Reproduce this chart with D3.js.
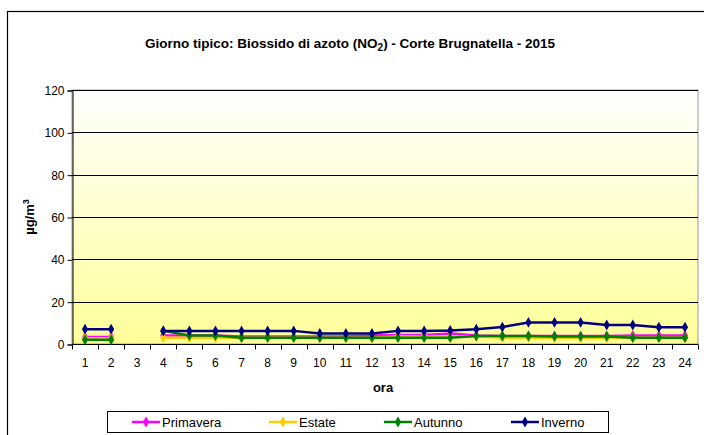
<!DOCTYPE html>
<html lang="it">
<head>
<meta charset="UTF-8">
<title>Giorno tipico NO2</title>
<script src="https://d3js.org/d3.v7.min.js"></script>
<style>
  body { margin: 0; background: #fff; }
  text { font-family: "Liberation Sans", Arial, sans-serif; }
</style>
</head>
<body>
<svg width="704" height="435"></svg>
<script>
const hours = d3.range(1, 25);
const yTicks = [0, 20, 40, 60, 80, 100, 120];
const primavera = [3.3, 3.3, null, 4, 4, 4, 3.5, 3.5, 3.5, 3.5, 3.5, 4, 4.3, 4.3, 5, 4, 3.8, 3.8, 3.8, 3.8, 3.8, 4, 4, 4];
const estate    = [2.7, 2.7, null, 3, 3, 3, 3, 3, 3, 3, 3, 3, 3.5, 3.5, 3.5, 3.5, 3, 3, 2.8, 2.8, 2.8, 3, 3, 3];
const autunno   = [2, 2, null, 6.2, 4, 4, 3, 3, 3, 3, 3, 3, 3, 3, 3, 3.8, 3.8, 3.8, 3.6, 3.6, 3.6, 3, 3, 3];
const inverno   = [7, 7, null, 6.2, 6.2, 6.2, 6.2, 6.2, 6.2, 5, 5, 5, 6.2, 6.2, 6.4, 7, 8, 10.2, 10.2, 10.2, 9, 9, 7.9, 7.9];

const series = [
  {name: "Primavera", color: "#ff00ff", values: primavera},
  {name: "Estate", color: "#ffcc00", values: estate},
  {name: "Autunno", color: "#008000", values: autunno},
  {name: "Inverno", color: "#000080", values: inverno}
];

const svg = d3.select("svg");
const pLeft = 72, pRight = 698, pTop = 90, pBottom = 344;

// outer chart border
svg.append("rect")
  .attr("x", 7.5).attr("y", 11.5).attr("width", 710).attr("height", 440)
  .attr("fill", "#fff").attr("stroke", "#000").attr("stroke-width", 1.2);

const defs = svg.append("defs");
const grad = defs.append("linearGradient").attr("id", "bg")
  .attr("x1", 0).attr("y1", 0).attr("x2", 0).attr("y2", 1);
grad.append("stop").attr("offset", "0%").attr("stop-color", "#ffffff");
grad.append("stop").attr("offset", "100%").attr("stop-color", "#ffff99");

const x = d3.scaleBand().domain(hours).range([pLeft, pRight]);
const y = d3.scaleLinear().domain([0, 120]).range([pBottom, pTop]);

svg.append("rect")
  .attr("x", pLeft).attr("y", pTop).attr("width", pRight - pLeft).attr("height", pBottom - pTop)
  .attr("fill", "url(#bg)").attr("stroke", "#999").attr("stroke-width", 1);

// gridlines
svg.append("g").selectAll("line")
  .data(yTicks.filter(d => d > 0))
  .join("line")
    .attr("x1", pLeft).attr("x2", pRight)
    .attr("y1", d => Math.round(y(d)) + 0.5).attr("y2", d => Math.round(y(d)) + 0.5)
    .attr("stroke", "#000").attr("stroke-width", 1);

// y axis
const yAxis = svg.append("g")
  .attr("transform", `translate(${pLeft + 0.5},0.5)`)
  .call(d3.axisLeft(y).tickValues(yTicks).tickSize(5).tickPadding(3));
yAxis.select(".domain").attr("stroke", "#000");
yAxis.selectAll("text").attr("font-size", 12).attr("fill", "#000")
  .attr("font-family", "Liberation Sans, Arial, sans-serif");

// x axis with ticks at category boundaries
const xg = svg.append("g").attr("transform", `translate(0,${pBottom + 0.5})`);
xg.append("line").attr("x1", pLeft).attr("x2", pRight).attr("stroke", "#000");
xg.selectAll("line.tk")
  .data(d3.range(0, 25))
  .join("line").attr("class", "tk")
    .attr("x1", i => Math.round(pLeft + i * x.bandwidth()) + 0.5)
    .attr("x2", i => Math.round(pLeft + i * x.bandwidth()) + 0.5)
    .attr("y1", 0).attr("y2", 5).attr("stroke", "#000");
xg.selectAll("text")
  .data(hours)
  .join("text")
    .attr("x", d => x(d) + x.bandwidth() / 2)
    .attr("y", 22)
    .attr("text-anchor", "middle")
    .attr("font-size", 12)
    .text(d => d);

// lines and markers
const line = d3.line()
  .defined(d => d.v != null)
  .x(d => x(d.h) + x.bandwidth() / 2)
  .y(d => y(d.v));

const diamond = d3.symbol().type(d3.symbolDiamond).size(34);

series.forEach(s => {
  const pts = hours.map((h, i) => ({h: h, v: s.values[i]}));
  const g = svg.append("g");
  g.append("path")
    .attr("d", line(pts))
    .attr("fill", "none").attr("stroke", s.color)
    .attr("stroke-width", 2.5).attr("stroke-linejoin", "round");
  g.selectAll("path.m")
    .data(pts.filter(d => d.v != null))
    .join("path").attr("class", "m")
      .attr("d", diamond)
      .attr("transform", d => `translate(${x(d.h) + x.bandwidth() / 2},${y(d.v)})`)
      .attr("fill", s.color);
});

// title
const title = svg.append("text")
  .attr("x", 350).attr("y", 48)
  .attr("text-anchor", "middle")
  .attr("font-size", 13.5).attr("font-weight", "bold");
title.append("tspan").text("Giorno tipico: Biossido di azoto (NO");
title.append("tspan").attr("font-size", 10).attr("dy", 3).text("2");
title.append("tspan").attr("dy", -3).text(") - Corte Brugnatella -  2015");

// axis titles
svg.append("text")
  .attr("x", (pLeft + pRight) / 2 - 2).attr("y", 392)
  .attr("text-anchor", "middle")
  .attr("font-size", 13).attr("font-weight", "bold")
  .text("ora");

const yt = svg.append("text")
  .attr("transform", `translate(34,${(pTop + pBottom) / 2}) rotate(-90)`)
  .attr("text-anchor", "middle")
  .attr("font-size", 13).attr("font-weight", "bold");
yt.append("tspan").text("µg/m");
yt.append("tspan").attr("font-size", 9).attr("dy", -5).text("3");

// legend
const leg = svg.append("g");
leg.append("rect")
  .attr("x", 107.5).attr("y", 411.5).attr("width", 501).attr("height", 21)
  .attr("fill", "#fff").attr("stroke", "#000").attr("stroke-width", 1);
const legX = [132, 269, 384, 511];
series.forEach((s, i) => {
  const gx = legX[i], gy = 422;
  leg.append("line")
    .attr("x1", gx).attr("x2", gx + 28).attr("y1", gy).attr("y2", gy)
    .attr("stroke", s.color).attr("stroke-width", 2.5);
  leg.append("path").attr("d", diamond)
    .attr("transform", `translate(${gx + 14},${gy})`).attr("fill", s.color);
  leg.append("text")
    .attr("x", gx + 30).attr("y", gy + 4.5)
    .attr("font-size", 13)
    .text(s.name);
});
</script>
</body>
</html>
